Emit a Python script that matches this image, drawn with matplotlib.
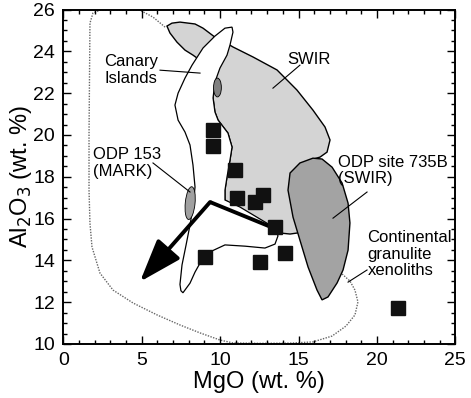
import matplotlib.pyplot as plt
from matplotlib.patches import Polygon, Ellipse
from matplotlib.ticker import MultipleLocator

plt.rcParams['font.family'] = ['Liberation Sans', 'DejaVu Sans']

# sample points (MgO, Al2O3)
mgo = [9.53, 9.53, 10.95, 11.06, 12.22, 12.76, 13.5, 9.04, 12.54, 14.14, 21.37]
al2o3 = [20.23, 19.47, 18.32, 16.97, 16.8, 17.12, 15.6, 14.17, 13.93, 14.33, 11.7]

# fields
swir_x = [6.61, 6.93, 7.44, 8.40, 8.91, 9.67, 10.31, 10.82, 12.10, 13.63, 14.90, 15.92,
          16.69, 17.01, 16.82, 16.37, 15.73, 15.09, 15.29, 14.46, 13.82, 13.18, 12.23,
          11.27, 10.31, 10.31, 10.44, 10.63, 10.76, 10.50, 9.87, 9.67, 9.55, 9.67, 9.03,
          8.53, 8.27, 7.76, 7.25, 6.80]
swir_y = [25.21, 25.35, 25.40, 25.31, 25.11, 24.68, 24.44, 24.21, 23.73, 23.11, 22.15, 21.19,
          20.38, 19.76, 19.18, 18.94, 18.80, 16.89, 15.35, 15.26, 15.31, 15.55, 15.93,
          16.41, 16.89, 17.36, 17.99, 18.80, 19.42, 20.09, 20.71, 21.10, 21.77, 22.53, 23.20,
          23.68, 23.82, 24.06, 24.44, 24.88]

odp735_x = [15.92, 15.09, 14.46, 14.33, 14.65, 15.09, 15.61, 16.18, 16.50, 16.88, 17.46,
            17.84, 18.16, 18.28, 18.16, 17.78, 17.14, 16.50]
odp735_y = [18.89, 18.66, 18.18, 17.36, 16.07, 14.97, 13.68, 12.58, 12.11, 12.25, 12.92,
            13.54, 14.49, 15.79, 16.74, 17.70, 18.46, 18.85]

canary_x = [10.76, 10.82, 10.63, 10.44, 9.99, 9.67, 9.55, 9.67, 9.87, 10.50, 10.76, 10.63,
            10.44, 10.31, 10.31, 11.27, 12.54, 13.50, 13.69, 13.50, 12.86, 11.59, 10.31,
            9.48, 9.03, 8.72, 8.40, 8.08, 7.63, 7.50, 7.44, 7.57, 7.83, 8.08, 8.27, 8.40,
            8.27, 8.08, 7.76, 7.32, 7.12, 7.32, 7.76, 8.21, 8.91, 9.67, 10.31]
canary_y = [25.16, 24.92, 24.30, 23.82, 23.20, 22.53, 21.77, 21.10, 20.71, 20.09, 19.42, 18.80,
            17.99, 17.36, 16.89, 16.55, 15.98, 15.55, 15.17, 14.78, 14.59, 14.68, 14.74,
            14.45, 14.16, 13.87, 13.44, 12.91, 12.45, 12.55, 12.85, 13.78, 14.74, 15.69, 16.55,
            17.51, 18.56, 19.52, 20.14, 20.71, 21.43, 22.00, 22.72, 23.34, 24.16, 24.73, 25.11]

granulite_x = [6.49, 5.72, 4.89, 2.34, 1.89, 1.70, 1.64, 1.64, 1.70, 1.83, 2.34, 3.17, 4.45,
               5.98, 7.44, 8.72, 9.99, 10.82, 12.54, 14.46, 15.92, 17.14, 18.03, 18.60,
               18.79, 18.60, 18.28, 17.78, 17.0, 16.0]
granulite_y = [25.16, 25.64, 25.97, 25.97, 25.83, 25.35, 20.0, 17.36, 15.78, 14.64, 13.39,
               12.58, 11.96, 11.39, 10.91, 10.53, 10.19, 10.05, 10.03, 10.04, 10.10, 10.38,
               10.86, 11.39, 12.01, 12.58, 13.01, 13.35, 16.0, 19.0]

# trend arrow: right end -> peak -> tip
arrow_x = [13.4, 9.36, 4.89]
arrow_y = [15.55, 16.79, 12.98]

labels = ['Canary\nIslands', 'SWIR', 'ODP 153\n(MARK)', 'ODP site 735B\n(SWIR)',
          'Continental\ngranulite\nxenoliths']
label_pos = [(2.6, 23.1), (14.3, 23.63), (1.9, 18.65), (17.5, 18.3), (19.4, 14.3)]
leader_start = [(6.17, 23.10), (15.09, 23.34), (5.72, 18.66), (19.37, 17.27), (19.37, 13.54)]
leader_end = [(8.72, 22.96), (13.37, 22.24), (8.08, 17.27), (17.2, 16.02), (18.16, 12.96)]

fig = plt.figure(figsize=(4.71, 3.98), dpi=100)
ax = fig.add_axes([0.1344, 0.1357, 0.8323, 0.8403])

ax.plot(granulite_x, granulite_y, color='#666666', lw=1.0, ls=(0, (1, 1)), zorder=1)
ax.add_patch(Polygon(list(zip(swir_x, swir_y)), closed=True, facecolor='#d4d4d4',
                     edgecolor='black', lw=1.0, zorder=2))
ax.add_patch(Polygon(list(zip(odp735_x, odp735_y)), closed=True, facecolor='#a3a3a3',
                     edgecolor='black', lw=1.0, zorder=3))
ax.add_patch(Polygon(list(zip(canary_x, canary_y)), closed=True, facecolor='white',
                     edgecolor='black', lw=0.9, zorder=4))
ax.add_patch(Ellipse((9.83, 22.27), 0.5, 0.9, facecolor='#808080', edgecolor='black',
                     lw=0.6, zorder=5))
ax.add_patch(Ellipse((8.09, 16.74), 0.62, 1.58, angle=-8, facecolor='#a0a0a0',
                     edgecolor='black', lw=0.6, zorder=5))

ax.plot(arrow_x[:2], arrow_y[:2], color='black', lw=2.8, solid_capstyle='butt', zorder=6)
ax.annotate('', xy=(arrow_x[2], arrow_y[2]), xytext=(arrow_x[1], arrow_y[1]),
            arrowprops=dict(arrowstyle='-|>,head_length=1.2,head_width=0.42', lw=2.8,
                            color='black', mutation_scale=22, shrinkA=0, shrinkB=0),
            zorder=6)

ax.plot(mgo, al2o3, 's', color='#111111', ms=10.5, zorder=7)

for text, (tx, ty) in zip(labels, label_pos):
    ax.text(tx, ty, text, ha='left', va='center', fontsize=12, linespacing=1.15, zorder=8)
for (x0, y0), (x1, y1) in zip(leader_start, leader_end):
    ax.plot([x0, x1], [y0, y1], color='black', lw=0.8, zorder=8)

ax.set_xlim(0, 25)
ax.set_ylim(10, 26)
ax.xaxis.set_major_locator(MultipleLocator(5))
ax.xaxis.set_minor_locator(MultipleLocator(1))
ax.yaxis.set_major_locator(MultipleLocator(2))
ax.yaxis.set_minor_locator(MultipleLocator(0.5))
ax.tick_params(which='both', direction='in', top=True, right=True, width=1.0)
ax.tick_params(which='major', length=6, labelsize=14, pad=6)
ax.tick_params(which='minor', length=3)
for spine in ax.spines.values():
    spine.set_linewidth(1.4)

ax.set_xlabel('MgO (wt. %)', fontsize=17, labelpad=1)
ax.set_ylabel(r'Al$_2$O$_3$ (wt. %)', fontsize=17, labelpad=-1)

fig.savefig('out.png', dpi=100)
